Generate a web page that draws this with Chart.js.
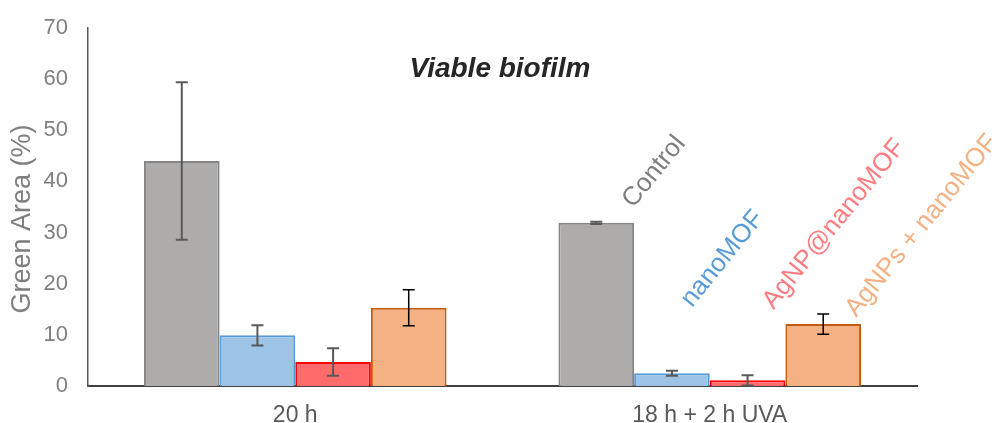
<!DOCTYPE html>
<html lang="en">
<head>
<meta charset="utf-8">
<title>Viable biofilm</title>
<script src="https://cdn.jsdelivr.net/npm/chart.js@4"></script>
<style>
    html, body { margin: 0; padding: 0; background: #ffffff; }
    #wrap { width: 997px; height: 423px; }
</style>
</head>
<body>
<div id="wrap"><canvas id="biofilmChart" width="997" height="423"></canvas></div>
<script>
// groups on the x axis and the four treatments drawn in each group
const groups = ["20 h", "18 h + 2 h UVA"];
const treatments = ["Control", "nanoMOF", "AgNP@nanoMOF", "AgNPs + nanoMOF"];

// green area (%) per treatment, one value per group, with the error bar half-lengths
const controlArea = [44.0, 31.9];
const controlErr = [15.4, 0.2];
const nanoMofArea = [9.9, 2.5];
const nanoMofErr = [2.0, 0.5];
const agnpAtMofArea = [4.7, 1.1];
const agnpAtMofErr = [2.7, 1.0];
const agnpsMixArea = [15.3, 12.1];
const agnpsMixErr = [3.5, 2.0];

// y axis ticks
const yTicks = [0, 10, 20, 30, 40, 50, 60, 70];

document.addEventListener("DOMContentLoaded", () => {
    const canvas = document.getElementById("biofilmChart");
    const ctx = canvas.getContext("2d");

    const fills = ["#AEABAB", "#9DC3E6", "#FF6B6B", "#F4B183"];
    const borders = ["#858585", "#5B9BD5", "#FF0000", "#C55A11"];
    const whiskerColors = ["#595959", "#595959", "#595959", "#000000"];
    const labelColors = ["#7F7F7F", "#5B9BD5", "#FF7C80", "#F4B183"];
    // where each rotated treatment name sits, relative to the top centre of its bar in the last group
    const labelShift = [[37, -14], [20, -65], [26, -70], [33, -6]];

    const values = [controlArea, nanoMofArea, agnpAtMofArea, agnpsMixArea];
    const errors = [controlErr, nanoMofErr, agnpAtMofErr, agnpsMixErr];

    const datasets = treatments.map((name, i) => ({
        label: name,
        data: values[i],
        errors: errors[i],
        backgroundColor: fills[i],
        borderColor: borders[i],
        borderWidth: 2,
        borderSkipped: "bottom",
        categoryPercentage: 0.73,
        barPercentage: 1.0
    }));

    const errorBars = {
        id: "errorBars",
        afterDatasetsDraw(chart) {
            const y = chart.scales.y;
            const c = chart.ctx;
            chart.data.datasets.forEach((ds, di) => {
                const meta = chart.getDatasetMeta(di);
                meta.data.forEach((bar, i) => {
                    const v = ds.data[i];
                    const e = ds.errors[i];
                    const top = y.getPixelForValue(v + e);
                    const bottom = y.getPixelForValue(Math.max(0, v - e));
                    const half = 6;
                    c.save();
                    c.strokeStyle = whiskerColors[di];
                    c.lineWidth = di === 3 ? 1.5 : 2;
                    c.beginPath();
                    c.moveTo(bar.x, top);
                    c.lineTo(bar.x, bottom);
                    c.moveTo(bar.x - half, top);
                    c.lineTo(bar.x + half, top);
                    c.moveTo(bar.x - half, bottom);
                    c.lineTo(bar.x + half, bottom);
                    c.stroke();
                    c.restore();
                });
            });
        }
    };

    const chartText = {
        id: "chartText",
        afterDraw(chart) {
            const c = chart.ctx;
            const area = chart.chartArea;

            // title inside the plot
            c.save();
            c.fillStyle = "#262626";
            c.font = "italic bold 28px 'Liberation Sans', Arial, sans-serif";
            c.textAlign = "center";
            c.textBaseline = "alphabetic";
            c.fillText("Viable biofilm", 500, 77);
            c.restore();

            // y axis title
            c.save();
            c.fillStyle = "#7F7F7F";
            c.font = "27px 'Liberation Sans', Arial, sans-serif";
            c.translate(23, (area.top + area.bottom) / 2 + 12);
            c.rotate(-Math.PI / 2);
            c.textAlign = "center";
            c.textBaseline = "middle";
            c.fillText("Green Area (%)", 0, 0);
            c.restore();

            // treatment names, slanted above the bars of the last group
            const last = groups.length - 1;
            chart.data.datasets.forEach((ds, di) => {
                const bar = chart.getDatasetMeta(di).data[last];
                c.save();
                c.fillStyle = labelColors[di];
                c.font = "26px 'Liberation Sans', Arial, sans-serif";
                c.translate(bar.x + labelShift[di][0], bar.y + labelShift[di][1]);
                c.rotate(-51 * Math.PI / 180);
                c.textAlign = "left";
                c.textBaseline = "alphabetic";
                c.fillText(ds.label, 0, 0);
                c.restore();
            });
        }
    };

    new Chart(ctx, {
        type: "bar",
        data: {
            labels: groups,
            datasets: datasets
        },
        options: {
            responsive: false,
            animation: false,
            layout: {
                padding: { left: 0, top: 28, right: 80, bottom: 0 }
            },
            plugins: {
                legend: { display: false },
                tooltip: { enabled: false },
                title: { display: false }
            },
            scales: {
                x: {
                    grid: { display: false, drawTicks: false },
                    border: { display: true, color: "#404040", width: 2 },
                    ticks: {
                        color: "#595959",
                        font: { family: "'Liberation Sans', Arial, sans-serif", size: 23 },
                        padding: 16
                    },
                    afterFit(scale) {
                        scale.height = 37;
                        scale.paddingLeft = 0;
                        scale.paddingRight = 0;
                    }
                },
                y: {
                    min: yTicks[0],
                    max: yTicks[yTicks.length - 1],
                    afterBuildTicks(scale) {
                        scale.ticks = yTicks.map(v => ({ value: v }));
                    },
                    grid: { display: false, drawTicks: false },
                    border: { display: true, color: "#595959", width: 1.5 },
                    ticks: {
                        color: "#808080",
                        font: { family: "'Liberation Sans', Arial, sans-serif", size: 22 },
                        padding: 20
                    },
                    afterFit(scale) {
                        scale.width = 88;
                        scale.paddingTop = 0;
                        scale.paddingBottom = 0;
                    }
                }
            }
        },
        plugins: [errorBars, chartText]
    });
});
</script>
</body>
</html>
